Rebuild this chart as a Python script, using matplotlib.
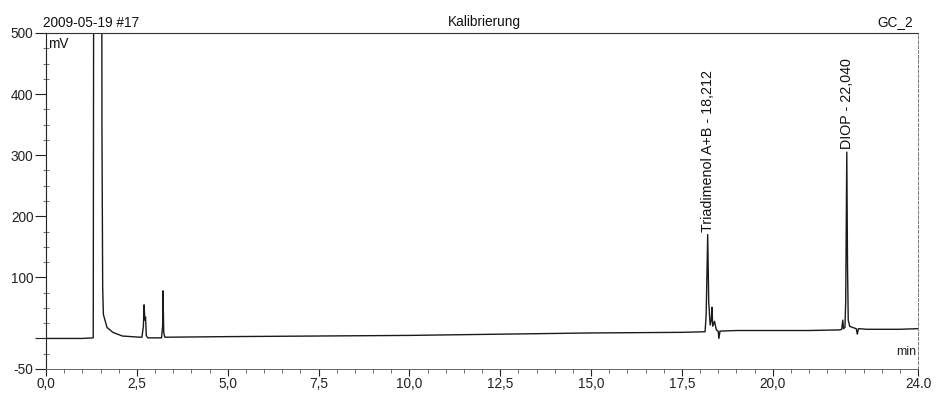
import matplotlib.pyplot as plt
from matplotlib.ticker import MultipleLocator

plt.rcParams['font.family'] = ['Liberation Sans', 'DejaVu Sans']

# chromatogram trace (time in min, signal in mV)
time = [0.00, 1.00, 1.30, 1.33, 1.52, 1.54, 1.56, 1.58, 1.68, 1.84, 2.10, 2.59,
        2.64, 2.68, 2.70, 2.72, 2.74, 2.76, 2.80, 3.18, 3.21, 3.22, 3.24, 3.27,
        5.00, 7.50, 10.00, 12.50, 15.00, 17.50, 18.14, 18.17, 18.212, 18.24,
        18.28, 18.31, 18.33, 18.35, 18.40, 18.45, 18.50, 18.52, 18.55, 19.00,
        20.00, 21.00, 21.85, 21.90, 21.93, 21.95, 21.99, 22.01, 22.040, 22.06,
        22.08, 22.12, 22.20, 22.30, 22.33, 22.36, 22.60, 23.50, 24.00]
signal = [0, 0, 1, 1500, 1500, 346, 83, 39, 18, 10, 4, 2,
          2, 20, 55, 30, 35, 5, 1, 1, 20, 78, 10, 2,
          3, 4, 5, 7, 9, 10, 11, 40, 170, 60,
          22, 30, 51, 20, 28, 14, 12, 0, 12, 13,
          13, 13, 14, 15, 30, 16, 18, 60, 305, 120,
          30, 20, 18, 16, 7, 16, 15, 15, 16]

peak_times = [18.212, 22.040]
peak_heights = [170, 305]
peak_labels = ['Triadimenol A+B - 18,212', 'DIOP - 22,040']

xticks = [0, 2.5, 5, 7.5, 10, 12.5, 15, 17.5, 20, 24]
xtick_labels = ['0,0', '2,5', '5,0', '7,5', '10,0', '12,5', '15,0', '17,5', '20,0', '24.0']
yticks = [-50, 0, 100, 200, 300, 400, 500]
ytick_labels = ['-50', '', '100', '200', '300', '400', '500']

fig = plt.figure(figsize=(9.36, 3.94), dpi=100)
ax = fig.add_axes([46 / 936, 25 / 394, 872 / 936, 336 / 394])

ax.plot(time, signal, color='#1a1a1a', lw=1.0)
ax.set_xlim(0, 24)
ax.set_ylim(-50, 500)

for t, h, lab in zip(peak_times, peak_heights, peak_labels):
    ax.text(t, h + 5, lab, rotation=90, ha='center', va='bottom',
            fontsize=10.3, color='#111111')

ax.set_xticks(xticks)
ax.set_xticklabels(xtick_labels)
ax.set_yticks(yticks)
ax.set_yticklabels(ytick_labels)
ax.xaxis.set_minor_locator(MultipleLocator(0.5))
ax.yaxis.set_minor_locator(MultipleLocator(25))
ax.tick_params(axis='both', labelsize=9.8, colors='#222222')
ax.tick_params(axis='x', which='major', direction='out', length=5, pad=1)
ax.tick_params(axis='x', which='minor', direction='out', length=3, color='#555555')
ax.tick_params(axis='y', which='major', direction='out', length=8, pad=1)
ax.tick_params(axis='y', which='minor', direction='inout', length=4, color='#555555')

ax.spines['left'].set_color('#222222')
ax.spines['top'].set_color('#333333')
ax.spines['top'].set_linewidth(0.8)
ax.spines['right'].set_color('#777777')
ax.spines['right'].set_linewidth(0.7)
ax.spines['right'].set_linestyle((0, (3, 2)))
ax.spines['bottom'].set_color('#666666')
ax.spines['bottom'].set_linewidth(0.7)

ax.text(-0.003, 1.008, '2009-05-19 #17', transform=ax.transAxes,
        ha='left', va='bottom', fontsize=9.8, color='#111111')
ax.text(0.503, 1.012, 'Kalibrierung', transform=ax.transAxes,
        ha='center', va='bottom', fontsize=9.8, color='#111111')
ax.text(0.994, 1.012, 'GC_2', transform=ax.transAxes,
        ha='right', va='bottom', fontsize=9.8, color='#111111')
ax.text(0.002, 0.988, 'mV', transform=ax.transAxes,
        ha='left', va='top', fontsize=9.8, color='#111111')
ax.text(23.95, -22, 'min', ha='right', va='center', fontsize=9, color='#222222')

fig.savefig('out.png', dpi=100)
